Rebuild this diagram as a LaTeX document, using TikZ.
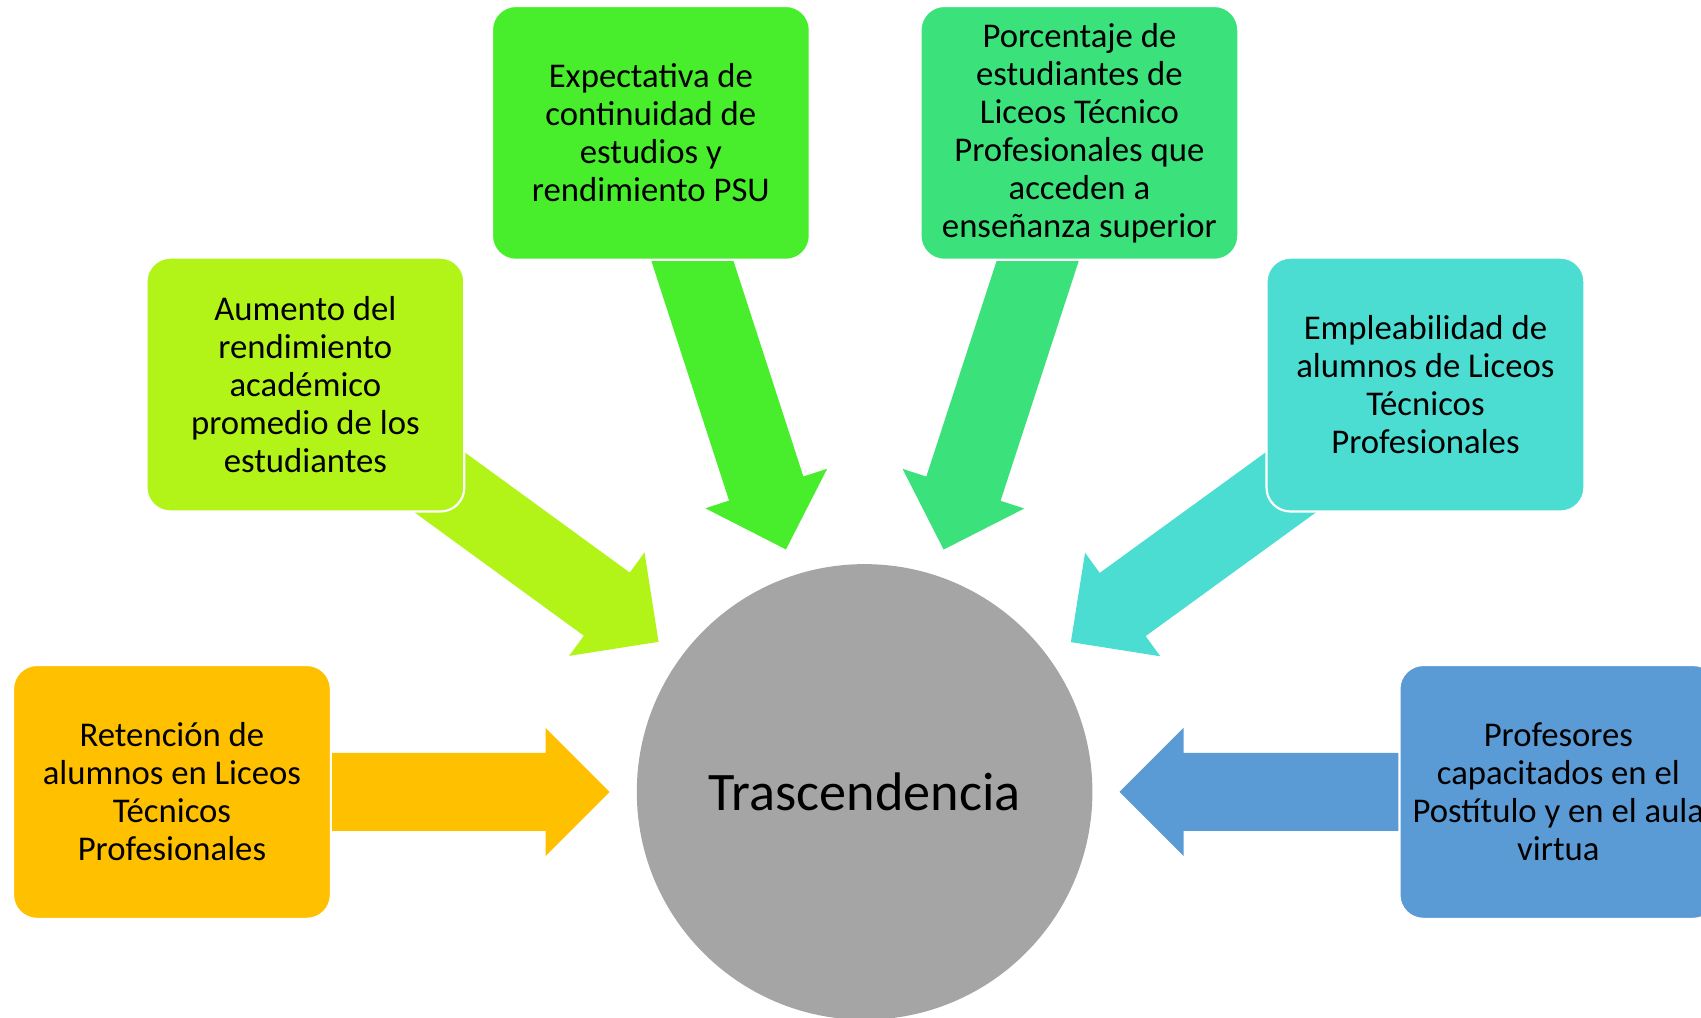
\documentclass[tikz,border=0pt]{standalone}
\usepackage{fontspec}
\setmainfont{Carlito}
\usetikzlibrary{calc}
\pgfdeclarelayer{back}
\pgfdeclarelayer{arrows}
\pgfsetlayers{back,arrows,main}
\definecolor{corange}{HTML}{FFC000}
\definecolor{clime}{HTML}{B2F418}
\definecolor{cgreen}{HTML}{48EE2B}
\definecolor{cmint}{HTML}{3BE27C}
\definecolor{cteal}{HTML}{4BDDD1}
\definecolor{cblue}{HTML}{5B9BD5}
\definecolor{cgrey}{HTML}{A5A5A5}
\newcommand\blockarr[3]{%
  \path coordinate (P) at ($(#3.center)!235pt!(#2.center)$)
        coordinate (H) at ($(P)!59pt!(#2.center)$)
        coordinate (T) at (#2.center);
  \fill[#1] ($(T)!36pt!90:(P)$) -- ($(H)!36pt!90:(P)$) -- ($(H)!59pt!90:(P)$) -- (P)
    -- ($(H)!59pt!-90:(P)$) -- ($(H)!36pt!-90:(P)$) -- ($(T)!36pt!-90:(P)$) -- cycle;}
\begin{document}
\begin{tikzpicture}[x=1pt,y=-1pt,
  box/.style={draw=white, line width=2pt, rounded corners=22pt, minimum width=293pt,
    minimum height=234pt, align=center, inner sep=0pt, text=black,
    font=\fontsize{32}{35}\selectfont},
  hub/.style={circle, fill=cgrey, minimum size=420pt, inner sep=0pt,
    font=\fontsize{50}{56}\selectfont}]
\useasboundingbox (0,0) rectangle (1568,937.5);
\clip (0,0) rectangle (1568,937.5);
\begin{pgfonlayer}{back}
\fill[white] (0,0) rectangle (1568,937.5);
\end{pgfonlayer}
\node[hub] (c) at (797,730) {Trascendencia};
\node[box, fill=corange] (b1) at (158.5,730) {Retención de\\alumnos en Liceos\\Técnicos\\Profesionales};
\node[box, fill=clime] (b2) at (281.5,354.5) {Aumento del\\rendimiento\\académico\\promedio de los\\estudiantes};
\node[box, fill=cgreen] (b3) at (600,122.5) {Expectativa de\\continuidad de\\estudios y\\rendimiento PSU};
\node[box, fill=cmint] (b4) at (995,122.5) {Porcentaje de\\estudiantes de\\Liceos Técnico\\Profesionales que\\acceden a\\enseñanza superior};
\node[box, fill=cteal] (b5) at (1314,354.5) {Empleabilidad de\\alumnos de Liceos\\Técnicos\\Profesionales};
\node[box, fill=cblue] (b6) at (1436.5,730) {Profesores\\capacitados en el\\Postítulo y en el aula\\virtua};
\begin{pgfonlayer}{arrows}
\blockarr{corange}{b1}{c}
\blockarr{clime}{b2}{c}
\blockarr{cgreen}{b3}{c}
\blockarr{cmint}{b4}{c}
\blockarr{cteal}{b5}{c}
\blockarr{cblue}{b6}{c}
\end{pgfonlayer}
\end{tikzpicture}
\end{document}
